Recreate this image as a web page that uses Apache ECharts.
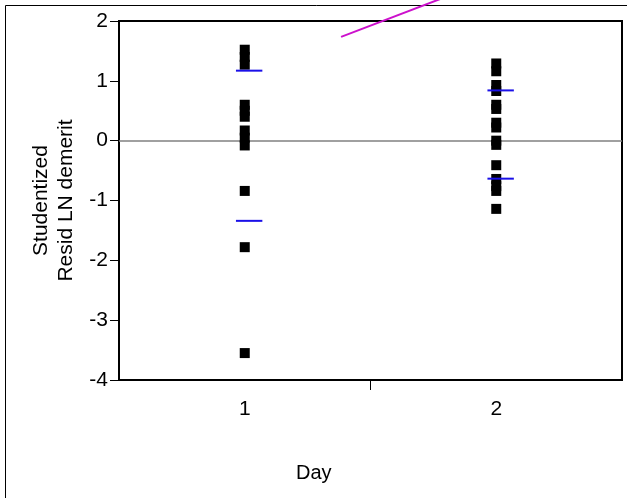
<!DOCTYPE html>
<html>
<head>
<meta charset="utf-8">
<script src="https://cdn.jsdelivr.net/npm/echarts@6/dist/echarts.min.js"></script>
<style>
    html, body { margin: 0; padding: 0; background: #fff; }
    #chart { width: 627px; height: 498px; }
</style>
</head>
<body>
<div id="chart"></div>
<script>
const days = ['1', '2']
const day1Resid = [1.52, 1.40, 1.27, 0.60, 0.50, 0.40, 0.17, 0.05, -0.08, -0.84, -1.78, -3.55]
const day2Resid = [1.29, 1.16, 0.93, 0.83, 0.60, 0.53, 0.30, 0.22, 0.0, -0.07, -0.41, -0.64, -0.76, -0.84, -1.14]
// upper / lower blue marks per day
const upperMarks = [1.17, 0.84]
const lowerMarks = [-1.34, -0.635]
// stray magenta segment (x in axis units, y in resid units)
const magentaX = [1.383, 1.9]
const magentaY = [1.734, 2.565]
const yTicks = [-4, -3, -2, -1, 0, 1, 2]
const xDividers = [1.5]

const font = 'Liberation Sans, Arial, sans-serif'

const chart = echarts.init(document.getElementById('chart'))

const points = []
day1Resid.forEach(v => points.push([0, v]))
day2Resid.forEach(v => points.push([1, v]))

function markSeg(dayIdx, v) {
    const c = dayIdx + 1
    return [[c - 0.035, v], [c + 0.07, v]]
}

const series = [
    {
        type: 'scatter',
        xAxisIndex: 0,
        data: points,
        symbol: 'rect',
        symbolSize: 10,
        itemStyle: { color: '#000', opacity: 1 },
        silent: true,
        z: 3,
        markLine: {
            silent: true,
            symbol: 'none',
            label: { show: false },
            lineStyle: { color: '#808080', width: 1.5, type: 'solid' },
            data: [{ yAxis: 0 }],
            z: 1
        }
    }
]
upperMarks.concat(lowerMarks).forEach((v, i) => {
    series.push({
        type: 'line',
        xAxisIndex: 1,
        data: markSeg(i % 2, v),
        symbol: 'none',
        lineStyle: { color: '#1a10e8', width: 2 },
        silent: true,
        z: 4
    })
})
series.push({
    type: 'line',
    xAxisIndex: 1,
    data: magentaX.map((x, i) => [x, magentaY[i]]),
    symbol: 'none',
    clip: false,
    lineStyle: { color: '#cc11cc', width: 2 },
    silent: true
})

chart.setOption({
    animation: false,
    textStyle: { fontFamily: font },
    grid: {
        left: 119,
        top: 21,
        right: 5,
        bottom: 118,
        show: true,
        borderColor: '#000',
        borderWidth: 2
    },
    title: {
        text: 'Day',
        left: 291,
        top: 458,
        textStyle: { fontFamily: font, fontSize: 20, fontWeight: 'normal', color: '#000' }
    },
    xAxis: [
        {
            type: 'category',
            data: days,
            boundaryGap: true,
            axisLine: { onZero: false, lineStyle: { color: '#000', width: 2 } },
            axisTick: { show: false },
            axisLabel: { color: '#000', fontSize: 21, margin: 19, fontFamily: font },
            splitLine: { show: false }
        },
        {
            type: 'value',
            min: 0.5,
            max: 2.5,
            position: 'bottom',
            axisLine: { show: false, onZero: false },
            axisTick: { show: true, length: 10, customValues: xDividers, lineStyle: { color: '#000', width: 1 } },
            axisLabel: { show: false },
            splitLine: { show: false }
        }
    ],
    yAxis: {
        type: 'value',
        min: yTicks[0],
        max: yTicks[yTicks.length - 1],
        interval: 1,
        name: 'Studentized\nResid LN demerit',
        nameLocation: 'middle',
        nameGap: 40,
        nameTextStyle: { color: '#000', fontSize: 21, lineHeight: 25, fontFamily: font },
        axisLine: { show: true, lineStyle: { color: '#000', width: 2 } },
        axisTick: { show: true, length: 9, lineStyle: { color: '#000', width: 1 } },
        axisLabel: { color: '#000', fontSize: 21, margin: 11, fontFamily: font },
        splitLine: { show: false }
    },
    graphic: [
        { type: 'line', shape: { x1: 5.5, y1: 5.5, x2: 5.5, y2: 498 }, style: { stroke: '#000', lineWidth: 1 } },
        { type: 'line', shape: { x1: 5.5, y1: 5.5, x2: 627, y2: 5.5 }, style: { stroke: '#000', lineWidth: 1 } }
    ],
    series: series
})
</script>
</body>
</html>
